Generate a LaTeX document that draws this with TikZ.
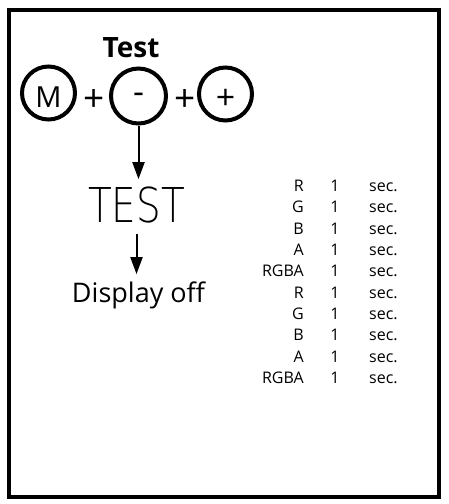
\documentclass[tikz,border=0pt]{standalone}
\usepackage{fontspec}
\setmainfont{Open Sans}
\newfontfamily\segfont{DejaVu Sans ExtraLight}
\usetikzlibrary{arrows.meta}
\tikzset{
  btn/.style={circle,draw=black,line width=4pt,minimum size=53pt,inner sep=0pt},
  lbl/.style={inner sep=0pt,font=\fontsize{34}{36}\selectfont},
  arr/.style={line width=2pt,-{Triangle[length=17pt,width=12pt]}},
  cell/.style={inner sep=0pt,font=\fontsize{16}{18}\selectfont},
}
\begin{document}
\begin{tikzpicture}[x=1pt,y=-1pt]
\useasboundingbox (0,0) rectangle (448,504);
\draw[line width=4pt] (9,10) rectangle (439,497);
% title
\node[inner sep=0pt,anchor=base,font=\fontsize{28}{30}\selectfont\bfseries] (title) at (131,57) {Test};
% buttons
\node[btn] (m) at (48.5,93) {};
\node[btn,minimum size=55pt] (minus) at (138.5,96) {};
\node[btn] (plus) at (225.5,94) {};
\node[lbl,font=\fontsize{29}{31}\selectfont] (mtxt) at (48.5,97) {M};
\node[lbl] (mintxt) at (138.5,98) {-};
\node[lbl] (plustxt) at (225.5,99) {+};
\node[lbl,font=\fontsize{37}{39}\selectfont] (p1) at (94,100) {+};
\node[lbl,font=\fontsize{37}{39}\selectfont] (p2) at (185,100) {+};
% display
\node[inner sep=0pt,anchor=base] (test) at (136.5,222) {\scalebox{0.81}[1]{\fontsize{48}{50}\segfont TEST}};
\node[inner sep=0pt,anchor=base,font=\fontsize{27}{29}\selectfont] (off) at (138.5,302) {Display off};
\draw[arr,shorten >=7pt] (minus) -- (minus |- test.north);
\draw[arr,shorten <=11pt,shorten >=7pt] (test) -- (test |- off.north);
% table
\foreach \lab [count=\i from 0] in {R,G,B,A,RGBA,R,G,B,A,RGBA}{
  \node[cell,anchor=base east] (c\i) at (304,191.5+21.33*\i) {\lab};
  \node[cell,anchor=base] (n\i) at (335,191.5+21.33*\i) {1};
  \node[cell,anchor=base west] (s\i) at (369,191.5+21.33*\i) {sec.};
}
\end{tikzpicture}
\end{document}
